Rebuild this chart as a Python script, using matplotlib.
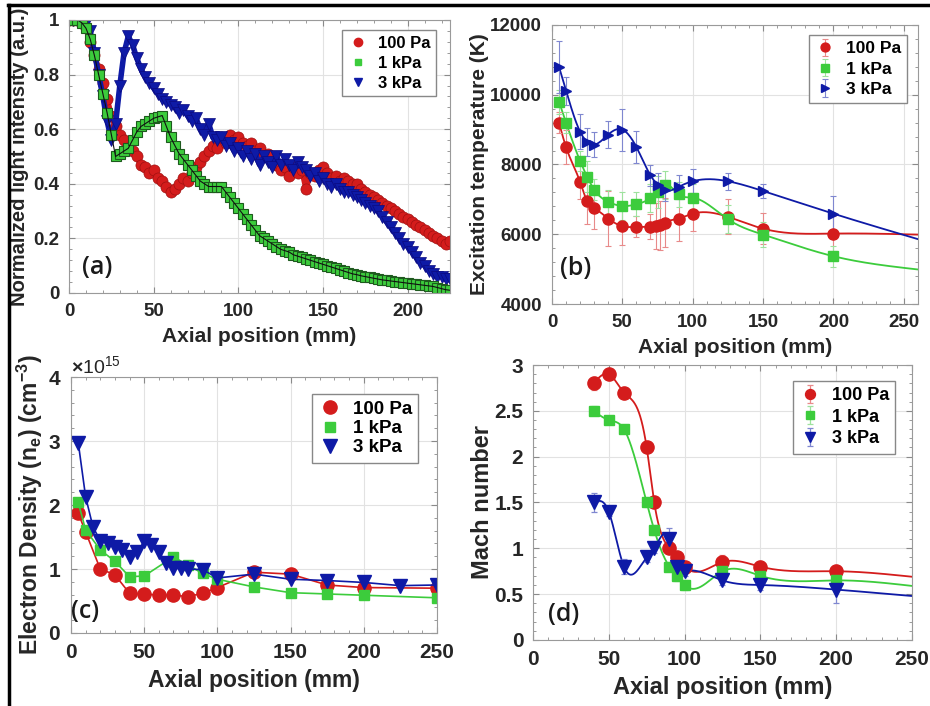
import numpy as np
import matplotlib.pyplot as plt
from matplotlib.lines import Line2D
from matplotlib.ticker import AutoMinorLocator, FuncFormatter, ScalarFormatter

plt.rcParams['font.family'] = ['Liberation Sans', 'DejaVu Sans']
plt.rcParams['font.weight'] = 'bold'
plt.rcParams['axes.labelweight'] = 'bold'
plt.rcParams['mathtext.fontset'] = 'custom'
plt.rcParams['mathtext.rm'] = 'Liberation Sans'
plt.rcParams['mathtext.bf'] = 'Liberation Sans:bold'
plt.rcParams['mathtext.it'] = 'Liberation Sans:italic'

RED = '#d41c1c'
GREEN = '#3ccc3c'
BLUE = '#0e1aa6'
RED_ERR = '#e88a8a'
GREEN_ERR = '#9ee29e'
BLUE_ERR = '#7f87d0'
labels = ['100 Pa', '1 kPa', '3 kPa']

# (a) normalized light intensity along the jet, 2.5 mm steps
x_int = np.arange(0, 225.1, 2.5)
int_100 = [1.00, 1.00, 1.00, 0.99, 0.97, 0.92, 0.87, 0.82, 0.77, 0.71,
           0.65, 0.61, 0.58, 0.56, 0.53, 0.52, 0.50, 0.47, 0.46, 0.44,
           0.45, 0.42, 0.41, 0.39, 0.37, 0.38, 0.40, 0.42, 0.41, 0.44,
           0.46, 0.48, 0.50, 0.52, 0.54, 0.53, 0.57, 0.55, 0.58, 0.56,
           0.57, 0.55, 0.54, 0.55, 0.52, 0.53, 0.50, 0.51, 0.48, 0.47,
           0.45, 0.46, 0.43, 0.46, 0.44, 0.45, 0.38, 0.44, 0.43, 0.45,
           0.46, 0.44, 0.42, 0.43, 0.41, 0.42, 0.41, 0.40, 0.40, 0.38,
           0.37, 0.36, 0.35, 0.34, 0.33, 0.32, 0.31, 0.30, 0.29, 0.28,
           0.27, 0.26, 0.25, 0.24, 0.23, 0.22, 0.21, 0.20, 0.19, 0.18,
           0.19]
int_1k = [1.00, 1.00, 1.00, 0.99, 0.97, 0.93, 0.87, 0.80, 0.73, 0.66,
          0.58, 0.50, 0.51, 0.52, 0.53, 0.56, 0.59, 0.61, 0.62, 0.63,
          0.64, 0.645, 0.65, 0.61, 0.57, 0.54, 0.51, 0.49, 0.47, 0.45,
          0.43, 0.41, 0.40, 0.39, 0.39, 0.39, 0.39, 0.37, 0.35, 0.33,
          0.31, 0.29, 0.27, 0.25, 0.23, 0.21, 0.20, 0.19, 0.18, 0.17,
          0.16, 0.155, 0.15, 0.14, 0.135, 0.13, 0.125, 0.12, 0.115, 0.11,
          0.105, 0.10, 0.095, 0.09, 0.085, 0.08, 0.075, 0.07, 0.067, 0.063,
          0.06, 0.057, 0.054, 0.051, 0.048, 0.046, 0.044, 0.042, 0.04, 0.038,
          0.036, 0.034, 0.032, 0.03, 0.028, 0.026, 0.024, 0.02, 0.016, 0.012,
          0.01]
int_3k = [1.00, 1.00, 1.00, 1.00, 0.99, 0.96, 0.88, 0.80, 0.72, 0.63,
          0.56, 0.62, 0.76, 0.88, 0.94, 0.91, 0.86, 0.82, 0.79, 0.77,
          0.75, 0.73, 0.71, 0.70, 0.69, 0.68, 0.66, 0.67, 0.65, 0.63,
          0.64, 0.60, 0.58, 0.62, 0.57, 0.56, 0.57, 0.54, 0.55, 0.52,
          0.53, 0.50, 0.52, 0.49, 0.51, 0.47, 0.50, 0.48, 0.46, 0.50,
          0.47, 0.49, 0.47, 0.45, 0.48, 0.46, 0.45, 0.43, 0.44, 0.41,
          0.42, 0.40, 0.39, 0.40, 0.38, 0.37, 0.37, 0.36, 0.35, 0.34,
          0.33, 0.32, 0.31, 0.30, 0.28, 0.26, 0.24, 0.22, 0.20, 0.18,
          0.17, 0.15, 0.13, 0.11, 0.10, 0.08, 0.07, 0.06, 0.06, 0.05,
          0.05]

# (b) excitation temperature (K)
x_T_100 = [5, 10, 20, 25, 30, 40, 50, 60, 70, 74, 77, 80, 90, 100, 125, 150, 200]
T_100 = [9200, 8500, 7500, 6950, 6750, 6450, 6230, 6210, 6220, 6240, 6260, 6330,
         6450, 6590, 6500, 6160, 6020]
Terr_100 = [300, 500, 500, 650, 600, 800, 550, 300, 350, 650, 700, 700, 650, 500,
            500, 450, 500]
x_T = [5, 10, 20, 25, 30, 40, 50, 60, 70, 75, 80, 90, 100, 125, 150, 200]
T_1k = [9800, 9200, 8100, 7650, 7280, 6930, 6810, 6860, 7030, 7210, 7420, 7140,
        7050, 6430, 5990, 5370]
Terr_1k = [350, 300, 300, 450, 300, 350, 400, 350, 400, 450, 400, 350, 400, 400,
           350, 300]
T_3k = [10800, 10120, 8940, 8650, 8570, 8860, 9000, 8500, 7690, 7420, 7260, 7360,
        7520, 7520, 7240, 6590]
Terr_3k = [750, 400, 500, 400, 350, 400, 600, 450, 300, 350, 300, 350, 350, 250,
           200, 500]
T_fit_x_end = 260
T_fit_end = [5990, 4990, 5860]

# (c) electron density (cm^-3)
x_ne_100 = [5, 10, 20, 30, 40, 50, 60, 70, 80, 90, 100, 125, 150, 175, 200, 250]
ne_100 = np.array([1.87, 1.58, 1.00, 0.91, 0.62, 0.61, 0.59, 0.59, 0.57, 0.62, 0.71,
                   0.95, 0.92, 0.75, 0.71, 0.70]) * 1e15
x_ne_1k = [5, 10, 20, 30, 40, 50, 70, 80, 90, 100, 125, 150, 175, 200, 250]
ne_1k = np.array([2.04, 1.61, 1.30, 1.12, 0.88, 0.89, 1.19, 1.06, 0.93, 0.84, 0.72,
                  0.63, 0.61, 0.59, 0.55]) * 1e15
x_ne_3k = [5, 10, 15, 20, 25, 30, 35, 40, 45, 50, 55, 60, 65, 70, 75, 80, 90, 100,
           125, 150, 175, 200, 225, 250]
ne_3k = np.array([2.97, 2.13, 1.66, 1.44, 1.40, 1.35, 1.30, 1.19, 1.26, 1.43, 1.38,
                  1.27, 1.09, 1.01, 1.01, 1.00, 0.99, 0.86, 0.92, 0.84, 0.82, 0.79,
                  0.74, 0.75]) * 1e15

# (d) Mach number
x_M = [40, 50, 60, 75, 80, 90, 95, 100, 125, 150, 200]
M_100 = [2.8, 2.9, 2.7, 2.1, 1.5, 1.0, 0.9, 0.8, 0.85, 0.8, 0.75]
M_1k = [2.5, 2.4, 2.3, 1.5, 1.2, 0.8, 0.7, 0.6, 0.75, 0.7, 0.65]
M_3k = [1.5, 1.4, 0.8, 0.9, 1.0, 1.1, 0.8, 0.75, 0.65, 0.6, 0.55]
Merr_100 = [0.07, 0.05, 0.05, 0.05, 0.05, 0.05, 0.05, 0.05, 0.08, 0.06, 0.05]
Merr_1k = [0.05, 0.04, 0.04, 0.05, 0.05, 0.05, 0.06, 0.05, 0.05, 0.05, 0.05]
Merr_3k = [0.10, 0.05, 0.08, 0.05, 0.05, 0.12, 0.05, 0.05, 0.05, 0.05, 0.15]
M_fit_x_end = 250
M_fit_end = [0.69, 0.59, 0.48]


def smooth_curve(x, y, num=500):
    # natural cubic spline through the points
    x = np.asarray(x, float)
    y = np.asarray(y, float)
    n = len(x)
    h = np.diff(x)
    A = np.zeros((n, n))
    r = np.zeros(n)
    A[0, 0] = A[-1, -1] = 1
    for i in range(1, n - 1):
        A[i, i - 1] = h[i - 1]
        A[i, i] = 2 * (h[i - 1] + h[i])
        A[i, i + 1] = h[i]
        r[i] = 3 * ((y[i + 1] - y[i]) / h[i] - (y[i] - y[i - 1]) / h[i - 1])
    c = np.linalg.solve(A, r)
    b = (y[1:] - y[:-1]) / h - h * (2 * c[:-1] + c[1:]) / 3
    d = (c[1:] - c[:-1]) / (3 * h)
    xs = np.linspace(x[0], x[-1], num)
    idx = np.clip(np.searchsorted(x, xs) - 1, 0, n - 2)
    dx = xs - x[idx]
    return xs, y[idx] + b[idx] * dx + c[idx] * dx ** 2 + d[idx] * dx ** 3


def style_axes(ax, tick_size, label_size):
    ax.grid(True, color='#e2e2e2', lw=0.8)
    ax.set_axisbelow(True)
    ax.xaxis.set_minor_locator(AutoMinorLocator(5))
    ax.yaxis.set_minor_locator(AutoMinorLocator(5))
    ax.tick_params(which='both', direction='in', top=True, right=True, color='#8a8a8a')
    ax.tick_params(which='major', length=4, labelsize=tick_size, labelcolor='#262626', pad=7)
    ax.tick_params(which='minor', length=2)
    for s in ax.spines.values():
        s.set_color('#9a9a9a')
        s.set_linewidth(0.8)
    ax.set_xlabel('Axial position (mm)', fontsize=label_size, color='#262626', labelpad=5)


def panel_tag(ax, text, x, y):
    ax.text(x, y, text, transform=ax.transAxes, fontsize=18, family='Open Sans',
            weight='semibold', color='#1a1a1a')


legend_kw = dict(fancybox=False, edgecolor='#888888', framealpha=1,
                 handletextpad=0.6, borderpad=0.35, handlelength=1.2)

fig = plt.figure(figsize=(9.3, 7.06), dpi=100)
fmt_g = FuncFormatter(lambda v, p: f'{v:g}')

# ---- (a) light intensity: dense scatter drawn as a marker band
ax = fig.add_axes([0.0742, 0.585, 0.4097, 0.3867])
ax.plot(x_int, int_100, '-', color=RED, lw=4, solid_capstyle='round')
ax.plot(x_int, int_100, 'o', color=RED, mec='#a01010', mew=0.5, ms=8)
ax.plot(x_int, int_3k, '-', color=BLUE, lw=4, solid_capstyle='round')
ax.plot(x_int, int_3k, 'v', color=BLUE, mec='#0a0a80', mew=0.5, ms=9)
ax.plot(x_int, int_1k, 's', color=GREEN, mec='#1e5a1e', mew=0.8, ms=6.5)
ax.plot(x_int, int_1k, '-', color='#101010', lw=0.8)
ax.set_xlim(0, 225)
ax.set_ylim(0, 1)
ax.set_xticks([0, 50, 100, 150, 200])
ax.set_yticks([0, 0.2, 0.4, 0.6, 0.8, 1])
ax.yaxis.set_major_formatter(fmt_g)
style_axes(ax, 13.5, 15)
ax.set_ylabel('Normalized light intensity (a.u.)', fontsize=14.5, color='#262626', labelpad=3)
handles = [Line2D([], [], ls='', marker='o', color=RED, ms=6),
           Line2D([], [], ls='', marker='s', color=GREEN, ms=5),
           Line2D([], [], ls='', marker='v', color=BLUE, ms=6)]
ax.legend(handles, labels, loc='upper right', bbox_to_anchor=(0.985, 0.995),
          fontsize=12, labelspacing=0.3, **legend_kw)
panel_tag(ax, '(a)', 0.034, 0.07)

# ---- (b) excitation temperature
ax = fig.add_axes([0.5935, 0.5694, 0.3935, 0.3952])
series_b = [(x_T_100, T_100, Terr_100, RED, RED_ERR, 'o', 8),
            (x_T, T_1k, Terr_1k, GREEN, GREEN_ERR, 's', 7),
            (x_T, T_3k, Terr_3k, BLUE, BLUE_ERR, '>', 7.5)]
for (xs, ys, es, col, ecol, mk, ms), yend in zip(series_b, T_fit_end):
    cx, cy = smooth_curve(list(xs) + [T_fit_x_end], list(ys) + [yend])
    ax.plot(cx, cy, '-', color=col, lw=1.3)
for (xs, ys, es, col, ecol, mk, ms), lab in zip(series_b, labels):
    ax.errorbar(xs, ys, yerr=es, fmt=mk, color=col, ms=ms, mec=col, ecolor=ecol,
                elinewidth=0.8, capsize=2.5, capthick=0.8, label=lab)
ax.set_xlim(0, 260)
ax.set_ylim(4000, 12000)
ax.set_xticks([0, 50, 100, 150, 200, 250])
ax.set_yticks([4000, 6000, 8000, 10000, 12000])
style_axes(ax, 13.5, 15)
ax.set_ylabel('Excitation temperature (K)', fontsize=15, color='#262626', labelpad=1)
ax.legend(loc='upper right', bbox_to_anchor=(0.995, 0.995), fontsize=12.5,
          labelspacing=0.3, markerscale=0.8, **legend_kw)
panel_tag(ax, '(b)', 0.022, 0.105)

# ---- (c) electron density
ax = fig.add_axes([0.0763, 0.1034, 0.3935, 0.3626])
ax.plot(x_ne_100, ne_100, '-o', color=RED, mec=RED, ms=9.5, lw=1.2, label=labels[0])
ax.plot(x_ne_1k, ne_1k, '-s', color=GREEN, mec=GREEN, ms=7.5, lw=1.2, label=labels[1])
ax.plot(x_ne_3k, ne_3k, '-v', color=BLUE, mec=BLUE, ms=9.5, lw=1.2, label=labels[2])
ax.set_xlim(0, 250)
ax.set_ylim(0, 4e15)
ax.set_xticks([0, 50, 100, 150, 200, 250])
ax.set_yticks(np.arange(5) * 1e15)
sf = ScalarFormatter(useMathText=True)
sf.set_powerlimits((0, 0))
ax.yaxis.set_major_formatter(sf)
style_axes(ax, 15, 16.5)
ax.yaxis.get_offset_text().set_fontsize(14)
ax.yaxis.get_offset_text().set_fontweight('normal')
ax.set_ylabel(r'Electron Density (n$_\mathbf{e}$) (cm$^\mathbf{-3}$)', fontsize=16.5,
              color='#262626', labelpad=2)
ax.legend(loc='upper right', bbox_to_anchor=(0.975, 0.97), fontsize=13.5,
          labelspacing=0.12, **legend_kw)
for h in ax.get_legend().get_lines():
    h.set_linestyle('')
panel_tag(ax, '(c)', 0.0, 0.06)

# ---- (d) Mach number
ax = fig.add_axes([0.5731, 0.0935, 0.4075, 0.3895])
series_d = [(M_100, Merr_100, RED, RED_ERR, 'o', 9.5), (M_1k, Merr_1k, GREEN, GREEN_ERR, 's', 7.5),
            (M_3k, Merr_3k, BLUE, BLUE_ERR, 'v', 9.5)]
for (ys, es, col, ecol, mk, ms), yend in zip(series_d, M_fit_end):
    cx, cy = smooth_curve(list(x_M) + [M_fit_x_end], list(ys) + [yend])
    ax.plot(cx, cy, '-', color=col, lw=1.3)
for (ys, es, col, ecol, mk, ms), lab in zip(series_d, labels):
    ax.errorbar(x_M, ys, yerr=es, fmt=mk, color=col, ms=ms, mec=col, ecolor=ecol,
                elinewidth=0.9, capsize=2.5, capthick=0.9, label=lab)
ax.set_xlim(0, 250)
ax.set_ylim(0, 3)
ax.set_xticks([0, 50, 100, 150, 200, 250])
ax.set_yticks([0, 0.5, 1, 1.5, 2, 2.5, 3])
ax.yaxis.set_major_formatter(fmt_g)
style_axes(ax, 15, 17)
ax.set_ylabel('Mach number', fontsize=17, color='#262626', labelpad=0)
ax.legend(loc='upper right', bbox_to_anchor=(0.98, 0.975), fontsize=13,
          labelspacing=0.25, markerscale=0.75, **legend_kw)
panel_tag(ax, '(d)', 0.04, 0.07)

# outer frame lines (top and left)
fig.add_artist(Line2D([0.0086, 1.0], [0.9935, 0.9935], color='black', lw=2.5,
                      transform=fig.transFigure))
fig.add_artist(Line2D([0.0097, 0.0097], [0.0, 0.9935], color='black', lw=2.5,
                      transform=fig.transFigure))

fig.savefig('out.png', dpi=100)
